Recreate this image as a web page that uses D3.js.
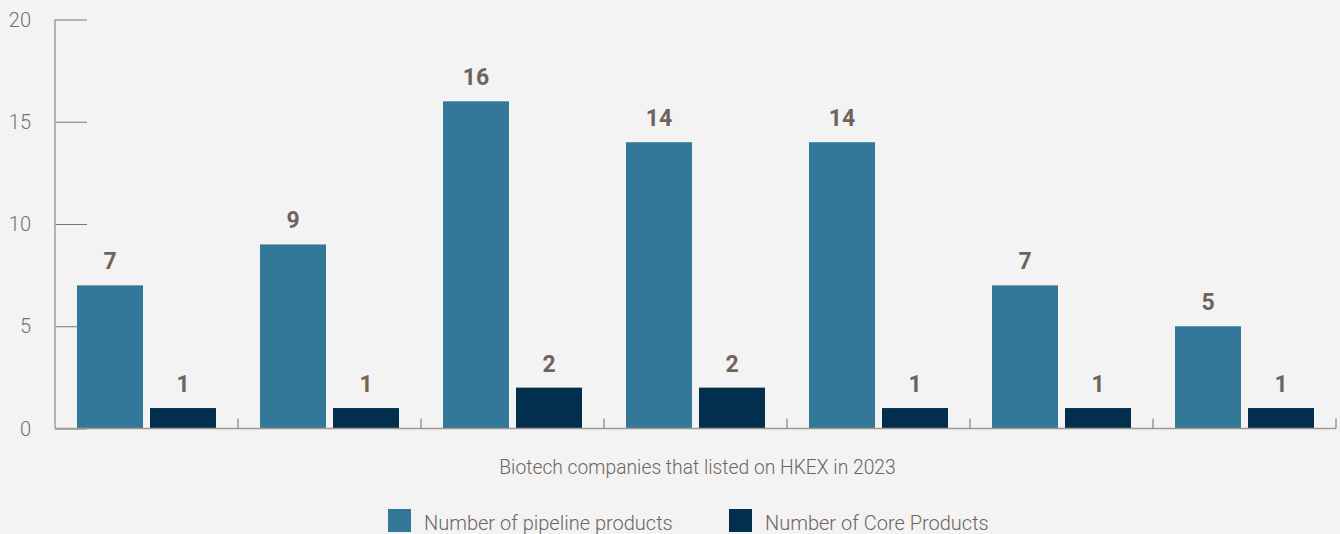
<!DOCTYPE html>
<html>
<head>
<meta charset="utf-8">
<script src="https://cdn.jsdelivr.net/npm/d3@7"></script>
<style>
  html, body { margin: 0; padding: 0; background: #f3f3f3; }
  svg { display: block; }
  text { font-family: Roboto, "Liberation Sans", sans-serif; }
</style>
</head>
<body>
<svg id="chart" width="1340" height="534"></svg>
<script>
// Biotech companies listed on HKEX in 2023
const companies = ["C1", "C2", "C3", "C4", "C5", "C6", "C7"];
const pipelineProducts = [7, 9, 16, 14, 14, 7, 5];
const coreProducts = [1, 1, 2, 2, 1, 1, 1];
const seriesNames = ["Number of pipeline products", "Number of Core Products"];
const seriesColors = ["#347899", "#022f4d"];
const yTicks = [0, 5, 10, 15, 20];
const xTitle = "Biotech companies that listed on HKEX in 2023";

const svg = d3.select("#chart");
const plotLeft = 55, plotRight = 1336, plotTop = 19.5, plotBottom = 428.5;

const x = d3.scaleBand().domain(companies).range([plotLeft, plotRight]).paddingInner(0).paddingOuter(0);
const inner = d3.scaleBand().domain([0, 1]).range([22, x.bandwidth() - 22]).paddingInner(7 / 73);
const y = d3.scaleLinear().domain([0, 20]).range([plotBottom, plotTop]);

// y axis: line plus inward ticks
const yAxis = svg.append("g").attr("transform", `translate(${plotLeft},0)`)
  .call(d3.axisRight(y).tickValues(yTicks).tickSize(32).tickFormat(""));
yAxis.select(".domain").remove();
yAxis.selectAll(".tick line").attr("stroke", "#7f756e").attr("stroke-width", 1);
svg.append("line")
  .attr("x1", plotLeft).attr("x2", plotLeft).attr("y1", y(20)).attr("y2", y(0))
  .attr("stroke", "#a59d97").attr("stroke-width", 1.5);
svg.append("g").selectAll("text").data(yTicks).join("text")
  .attr("x", 31).attr("y", d => y(d)).attr("dy", "0.36em")
  .attr("text-anchor", "end")
  .attr("font-size", 20).attr("font-weight", 300).attr("fill", "#7b7069")
  .text(d => d);

// bars
const groups = svg.append("g").selectAll("g").data(companies).join("g")
  .attr("transform", d => `translate(${x(d)},0)`);
groups.each(function (c, i) {
  const vals = [pipelineProducts[i], coreProducts[i]];
  const g = d3.select(this);
  g.selectAll("rect").data(vals).join("rect")
    .attr("x", (v, j) => inner(j))
    .attr("width", inner.bandwidth())
    .attr("y", v => y(v))
    .attr("height", v => y(0) - y(v))
    .attr("fill", (v, j) => seriesColors[j]);
  g.selectAll("text").data(vals).join("text")
    .attr("x", (v, j) => inner(j) + inner.bandwidth() / 2)
    .attr("y", v => y(v) - 16)
    .attr("text-anchor", "middle")
    .attr("font-family", "'Liberation Sans', Arial, sans-serif")
    .attr("font-size", 23).attr("font-weight", 700).attr("fill", "#6e645c")
    .text(v => v);
});

// x axis: baseline plus short upward ticks at category boundaries
svg.append("line")
  .attr("x1", plotLeft).attr("x2", plotRight).attr("y1", plotBottom).attr("y2", plotBottom)
  .attr("stroke", "#9f9791").attr("stroke-width", 1.5);
svg.append("g").selectAll("line").data(companies).join("line")
  .attr("x1", d => x(d) + x.bandwidth()).attr("x2", d => x(d) + x.bandwidth())
  .attr("y1", plotBottom).attr("y2", plotBottom - 10)
  .attr("stroke", "#8a807a").attr("stroke-width", 1.2);

// x axis title
svg.append("text")
  .attr("x", 697.5).attr("y", 474)
  .attr("text-anchor", "middle")
  .attr("font-size", 19.3).attr("font-weight", 300).attr("fill", "#6f655e")
  .text(xTitle);

// legend
const legendX = [388, 729];
const leg = svg.append("g").selectAll("g").data(seriesNames).join("g")
  .attr("transform", (d, i) => `translate(${legendX[i]},509)`);
leg.append("rect").attr("width", 23).attr("height", 23).attr("fill", (d, i) => seriesColors[i]);
leg.append("text").attr("x", 36).attr("y", 21)
  .attr("font-size", 20).attr("font-weight", 300).attr("fill", "#6f655e")
  .text(d => d);
</script>
</body>
</html>
